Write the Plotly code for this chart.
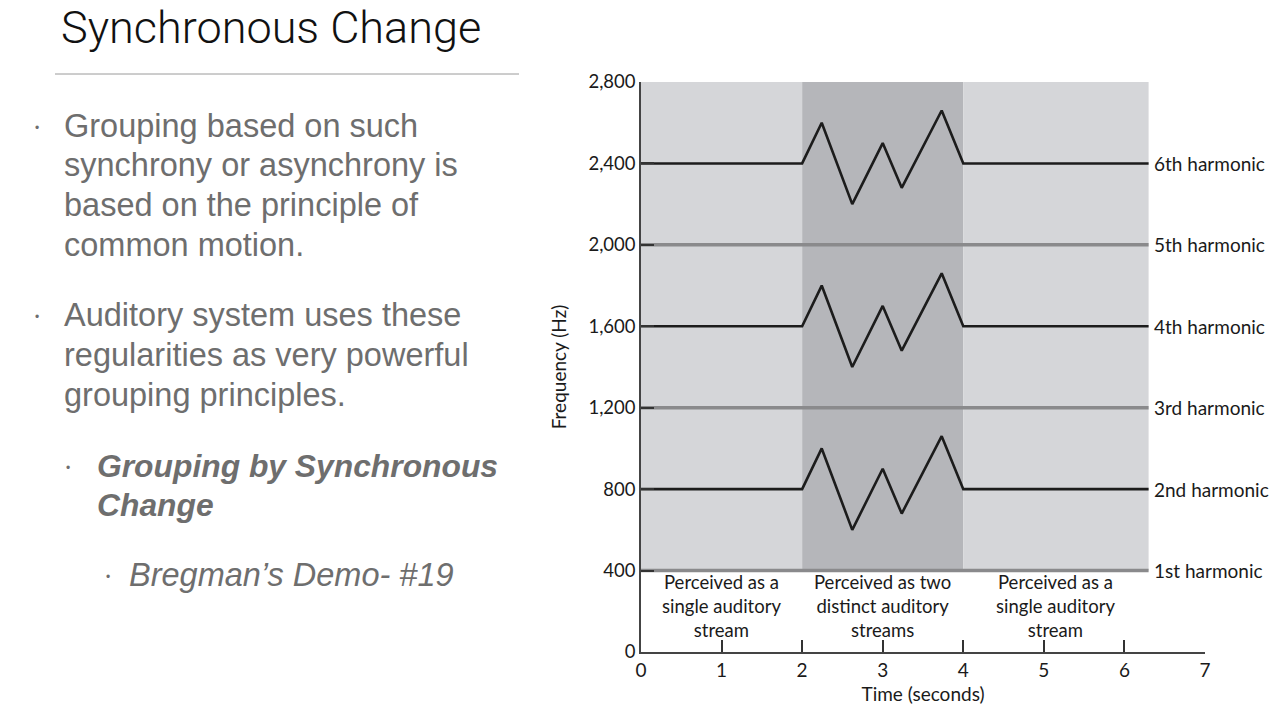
import plotly.graph_objects as go

# ---------------- data ----------------
time_pts = [0, 2, 2.243, 2.622, 3.0, 3.236, 3.732, 4.0, 6.3]
offsets = [0, 0, 200, -200, 100, -120, 260, 0, 0]   # synchronous modulation (Hz)
h2_freq = [800 + o for o in offsets]
h4_freq = [1600 + o for o in offsets]
h6_freq = [2400 + o for o in offsets]
steady_time = [0, 6.3]
steady_freqs = {"1st": 400, "3rd": 1200, "5th": 2000}
harmonic_labels = ["1st harmonic", "2nd harmonic", "3rd harmonic",
                   "4th harmonic", "5th harmonic", "6th harmonic"]
harmonic_levels = [400, 800, 1200, 1600, 2000, 2400]
region_edges = [0, 2, 4, 6.3]
region_labels = ["Perceived as a<br>single auditory<br>stream",
                 "Perceived as two<br>distinct auditory<br>streams",
                 "Perceived as a<br>single auditory<br>stream"]
y_ticks = [0, 400, 800, 1200, 1600, 2000, 2400, 2800]
y_tick_text = ["0", "400", "800", "1,200", "1,600", "2,000", "2,400", "2,800"]
x_ticks = [0, 1, 2, 3, 4, 5, 6, 7]

slide_title = "Synchronous Change"
bullets = [
    (126, "Grouping based on such"),
    (165, "synchrony or asynchrony is"),
    (205, "based on the principle of"),
    (245, "common motion."),
    (315, "Auditory system uses these"),
    (355, "regularities as very powerful"),
    (395, "grouping principles."),
]
bullet_marks = [126, 315]
sub_lines = [(466, "Grouping by Synchronous"), (505, "Change")]
subsub_line = (575, "Bregman’s Demo- #19")

# ---------------- layout geometry ----------------
L, R, T, B = 641, 1205, 82, 652
W, H = R - L, B - T


def px(xp):
    return (xp - L) / W


def py(yp):
    return (B - yp) / H


CHART_FONT = "Lato, 'Noto Sans', sans-serif"
TEXT_FONT = "'Liberation Sans', Arial, sans-serif"
BLACK = "#1c1c1c"
GRAY_LINE = "#8a8a8c"
TEXT_GRAY = "#6e6e6e"

fig = go.Figure()

# shaded regions
shade_cols = ["#d5d6d9", "#b5b6ba", "#d5d6d9"]
for i in range(3):
    fig.add_shape(type="rect", xref="x", yref="y",
                  x0=region_edges[i], x1=region_edges[i + 1], y0=400, y1=2800,
                  fillcolor=shade_cols[i], line_width=0, layer="below")

# steady harmonics (gray)
for name, f in steady_freqs.items():
    fig.add_trace(go.Scatter(x=steady_time, y=[f, f], mode="lines",
                             line=dict(color=GRAY_LINE, width=3.5),
                             hoverinfo="skip", showlegend=False))

# modulated harmonics (black)
for ys in (h2_freq, h4_freq, h6_freq):
    fig.add_trace(go.Scatter(x=time_pts, y=ys, mode="lines",
                             line=dict(color=BLACK, width=2.6),
                             hoverinfo="skip", showlegend=False))

annotations = []
# harmonic labels
for lab, lev in zip(harmonic_labels, harmonic_levels):
    annotations.append(dict(x=6.34, y=lev, xref="x", yref="y", text=lab,
                            showarrow=False, xanchor="left", yanchor="middle",
                            font=dict(family=CHART_FONT, size=19, color="#1a1a1a")))
# region labels
for i, lab in enumerate(region_labels):
    cx = (region_edges[i] + region_edges[i + 1]) / 2
    annotations.append(dict(x=cx, y=226, xref="x", yref="y", text=lab,
                            showarrow=False, xanchor="center", yanchor="middle",
                            align="center",
                            font=dict(family=CHART_FONT, size=18.5, color="#1a1a1a")))

# slide title
annotations.append(dict(x=px(60), y=py(0), xref="paper", yref="paper",
                        text=slide_title, showarrow=False, xanchor="left",
                        yanchor="top", borderpad=0,
                        font=dict(family="Roboto, " + TEXT_FONT, size=45,
                                  color="#111111", weight=300)))
# bullets
for yy, txt in bullets:
    annotations.append(dict(x=px(62), y=py(yy), xref="paper", yref="paper",
                            text=txt, showarrow=False, xanchor="left",
                            yanchor="middle",
                            font=dict(family=TEXT_FONT, size=32.5, color=TEXT_GRAY)))
for yy in bullet_marks:
    annotations.append(dict(x=px(37), y=py(yy + 2), xref="paper", yref="paper",
                            text="•", showarrow=False, xanchor="center",
                            yanchor="middle",
                            font=dict(family=TEXT_FONT, size=12, color=TEXT_GRAY)))
for yy, txt in sub_lines:
    annotations.append(dict(x=px(95), y=py(yy), xref="paper", yref="paper",
                            text="<b><i>" + txt + "</i></b>", showarrow=False,
                            xanchor="left", yanchor="middle",
                            font=dict(family=TEXT_FONT, size=31.8, color=TEXT_GRAY)))
annotations.append(dict(x=px(68), y=py(sub_lines[0][0] + 2), xref="paper", yref="paper",
                        text="•", showarrow=False, xanchor="center", yanchor="middle",
                        font=dict(family=TEXT_FONT, size=12, color=TEXT_GRAY)))
annotations.append(dict(x=px(127), y=py(subsub_line[0]), xref="paper", yref="paper",
                        text="<i>" + subsub_line[1] + "</i>", showarrow=False,
                        xanchor="left", yanchor="middle",
                        font=dict(family=TEXT_FONT, size=32.5, color=TEXT_GRAY)))
annotations.append(dict(x=px(108), y=py(subsub_line[0] + 2), xref="paper", yref="paper",
                        text="•", showarrow=False, xanchor="center", yanchor="middle",
                        font=dict(family=TEXT_FONT, size=12, color=TEXT_GRAY)))

# rule under title
fig.add_shape(type="line", xref="paper", yref="paper",
              x0=px(55), x1=px(519), y0=py(74), y1=py(74),
              line=dict(color="#9a9a9a", width=1))

fig.update_layout(
    width=1280, height=720,
    margin=dict(l=L, r=1280 - R, t=T, b=720 - B),
    paper_bgcolor="white", plot_bgcolor="white",
    annotations=annotations,
    showlegend=False,
    xaxis=dict(range=[0, 7], tickvals=x_ticks, ticks="inside", ticklen=12,
               tickwidth=1.5, tickcolor="#333", showline=True, linecolor="#444",
               linewidth=1.5, showgrid=False, zeroline=False,
               tickfont=dict(family=CHART_FONT, size=19, color="#1a1a1a"),
               title=dict(text="Time (seconds)", standoff=8,
                          font=dict(family=CHART_FONT, size=19, color="#1a1a1a"))),
    yaxis=dict(range=[0, 2800], tickvals=y_ticks, ticktext=y_tick_text,
               ticks="inside", ticklen=13, tickwidth=1.5, tickcolor="#333",
               showline=True, linecolor="#444", linewidth=1.5, showgrid=False,
               zeroline=False,
               tickfont=dict(family=CHART_FONT, size=18.5, color="#1a1a1a"),
               title=dict(text="Frequency (Hz)", standoff=17,
                          font=dict(family=CHART_FONT, size=19, color="#1a1a1a"))),
)

fig.write_html("out.html")
